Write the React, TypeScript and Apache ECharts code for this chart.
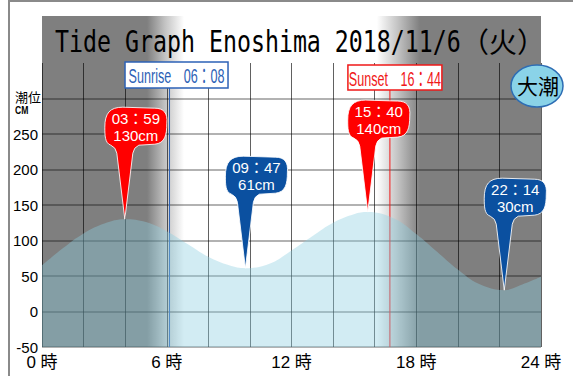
import React, { useEffect, useRef } from 'react';
import * as echarts from 'echarts';

// ---- data ----
const tideHours = [0, 1, 2, 3, 3.983, 5, 6, 7, 8, 9, 9.783, 11, 12, 13, 14, 15, 15.667, 17, 18, 19, 20, 21, 22.233, 23, 24];
const tideLevels = [65, 89, 110, 124, 130, 126, 113, 95, 77, 65, 61, 68, 86, 106, 125, 137, 140, 130, 109, 84, 59, 39, 30, 37, 49];

const extremeHours = [3.983, 9.783, 15.667, 22.233];
const extremeTimes = ['03：59', '09：47', '15：40', '22：14'];
const extremeLevels = [130, 61, 140, 30];
const extremeKinds = ['high', 'low', 'high', 'low'];

const sunriseHour = 6 + 8 / 60;
const sunsetHour = 16 + 44 / 60;
const sunriseText = 'Sunrise　06：08';
const sunsetText = 'Sunset　16：44';

const xLabelHours = [0, 6, 12, 18, 24];
const yLabelMax = 250;

const titleMain = 'Tide Graph Enoshima 2018/11/6';
const titleDay = '（火）';
const tideType = '大潮';
const yUnitLines = ['潮位', 'CM'];

const PIN_PATH =
  'M 0 0 L -8 -66 Q -9 -72 -14 -74 C -20 -76 -20 -84 -20 -92 C -20 -106 -15 -112 -2 -112 L 30 -111 C 39 -111 43 -106 42 -96 C 42 -84 40 -76 30 -75 L 14 -74 Q 9 -72 8 -66 Z';
echarts.graphic.registerShape('tidePin', echarts.graphic.extendPath(PIN_PATH, {}));

const NARROW = "'Liberation Sans Narrow', 'Liberation Sans', 'Noto Sans CJK JP', sans-serif";

export default function App() {
  const ref = useRef<HTMLDivElement>(null);

  useEffect(() => {
    if (!ref.current) return;
    const chart = echarts.init(ref.current, null, { renderer: 'svg' });
    chart.setOption({
      animation: false,
      grid: { left: 42, right: 32, top: 63, bottom: 29 },
      xAxis: {
        type: 'value',
        min: 0,
        max: 24,
        interval: 2,
        axisLine: { show: false },
        axisTick: { show: false },
        axisLabel: {
          margin: 7,
          fontSize: 17,
          color: '#000',
          fontFamily: NARROW,
          formatter: (v: number) => (xLabelHours.includes(v) ? `${v} 時` : ''),
        },
        splitLine: { show: true, lineStyle: { color: 'rgba(0,0,0,0.62)', width: 1 } },
      },
      yAxis: {
        type: 'value',
        min: -50,
        max: 350,
        interval: 50,
        axisLine: { show: false },
        axisTick: { show: false },
        axisLabel: {
          margin: 4,
          fontSize: 15,
          color: '#000',
          fontFamily: NARROW,
          formatter: (v: number) => (v <= yLabelMax ? String(v) : ''),
        },
        splitLine: { show: true, showMaxLine: false, lineStyle: { color: 'rgba(0,0,0,0.3)', width: 2 } },
      },
      series: [
        {
          type: 'line',
          data: tideHours.map((h, i) => [h, tideLevels[i]]),
          smooth: 0.4,
          symbol: 'none',
          lineStyle: { width: 0 },
          areaStyle: { color: 'rgba(140,207,224,0.56)', origin: 'start' },
          z: 2,
        },
      ],
    });

    const px = (h: number, v: number) => chart.convertToPixel({ gridIndex: 0 }, [h, v]) as number[];
    const x0 = px(0, 0)[0];
    const x24 = px(24, 0)[0];
    const yBottom = px(0, -50)[1];
    const off = (h: number) => Math.min(1, Math.max(0, (px(h, 0)[0] - x0) / (x24 - x0)));
    const gray = '#7f7f7f';

    const bg = {
      type: 'rect',
      z: -10,
      silent: true,
      shape: { x: x0, y: 16, width: x24 - x0, height: yBottom - 16 },
      style: {
        fill: new echarts.graphic.LinearGradient(0, 0, 1, 0, [
          { offset: 0, color: gray },
          { offset: off(sunriseHour - 1.08), color: gray },
          { offset: off(sunriseHour - 0.23), color: '#c2c2c2' },
          { offset: off(sunriseHour + 0.7), color: '#ffffff' },
          { offset: off(sunsetHour - 0.63), color: '#ffffff' },
          { offset: off(sunsetHour + 0.4), color: '#c2c2c2' },
          { offset: off(sunsetHour + 1.45), color: gray },
          { offset: 1, color: gray },
        ]),
      },
    };

    const sunEls: any[] = [];
    const addSun = (h: number, text: string, color: string, top: number, w: number, hgt: number, dx: number) => {
      const xs = px(h, 0)[0];
      sunEls.push({
        type: 'line',
        z: 1,
        shape: { x1: xs, y1: top + hgt, x2: xs, y2: yBottom },
        style: { stroke: color, lineWidth: 1 },
      });
      sunEls.push({
        type: 'rect',
        z: 20,
        shape: { x: xs + dx - w / 2, y: top, width: w, height: hgt },
        style: { fill: '#fff', stroke: color, lineWidth: 1.5 },
      });
      sunEls.push({
        type: 'text',
        z: 21,
        x: xs + dx,
        y: top + hgt / 2 + 1,
        scaleX: 0.6,
        style: {
          text,
          fill: color,
          font: "21px 'Liberation Sans', 'Noto Sans CJK JP', sans-serif",
          align: 'center',
          verticalAlign: 'middle',
        },
      });
    };
    addSun(sunriseHour, sunriseText, '#2d62b6', 62, 103, 26, 7);
    addSun(sunsetHour, sunsetText, '#f01818', 65, 94, 25, 5);

    const pins: any[] = [];
    extremeHours.forEach((h, i) => {
      const [tx, ty] = px(h, extremeLevels[i]);
      const color = extremeKinds[i] === 'high' ? '#ff0000' : '#0b50a0';
      pins.push({
        type: 'tidePin',
        z: 30,
        x: tx,
        y: ty,
        style: { fill: color, stroke: 'rgba(255,255,255,0.85)', lineWidth: 1 },
      });
      pins.push({
        type: 'text',
        z: 31,
        x: tx + 11,
        y: ty - 92,
        style: {
          text: `${extremeTimes[i]}\n${extremeLevels[i]}cm`,
          fill: '#fff',
          font: "15px 'Liberation Sans', 'Noto Sans CJK JP', sans-serif",
          lineHeight: 17,
          align: 'center',
          verticalAlign: 'middle',
        },
      });
    });

    chart.setOption({
      graphic: [
        bg,
        { type: 'rect', z: 40, shape: { x: 8, y: 0, width: 565, height: 2 }, style: { fill: '#8a8a8a' } },
        { type: 'rect', z: 40, shape: { x: 8, y: 0, width: 2, height: 376 }, style: { fill: '#8a8a8a' } },
        {
          type: 'text',
          z: 40,
          x: 55,
          y: 41,
          scaleX: 0.75,
          style: {
            text: titleMain,
            fill: '#000',
            font: "31px 'DejaVu Sans Mono', monospace",
            align: 'left',
            verticalAlign: 'middle',
          },
        },
        {
          type: 'text',
          z: 40,
          x: 461,
          y: 41,
          style: {
            text: titleDay,
            fill: '#000',
            font: "28px 'Noto Sans CJK JP', sans-serif",
            align: 'left',
            verticalAlign: 'middle',
          },
        },
        {
          type: 'text',
          z: 40,
          x: 15,
          y: 96,
          style: { text: yUnitLines[0], fill: '#000', font: "13px 'Noto Sans CJK JP', sans-serif", align: 'left', verticalAlign: 'middle' },
        },
        {
          type: 'text',
          z: 40,
          x: 15,
          y: 110,
          scaleX: 0.78,
          style: { text: yUnitLines[1], fill: '#000', font: "bold 11px 'Liberation Sans', sans-serif", align: 'left', verticalAlign: 'middle' },
        },
        {
          type: 'ellipse',
          z: 40,
          shape: { cx: 537, cy: 86, rx: 26, ry: 21 },
          style: { fill: '#8ad3e8', stroke: '#2d6db4', lineWidth: 1.5 },
        },
        {
          type: 'text',
          z: 41,
          x: 538,
          y: 85,
          style: { text: tideType, fill: '#000', font: "21px 'Noto Sans CJK JP', sans-serif", align: 'center', verticalAlign: 'middle' },
        },
        ...sunEls,
        ...pins,
      ],
    });

    return () => chart.dispose();
  }, []);

  return (
    <div
      ref={ref}
      style={{ position: 'absolute', left: 0, top: 0, width: 573, height: 376, background: '#fff' }}
    />
  );
}
